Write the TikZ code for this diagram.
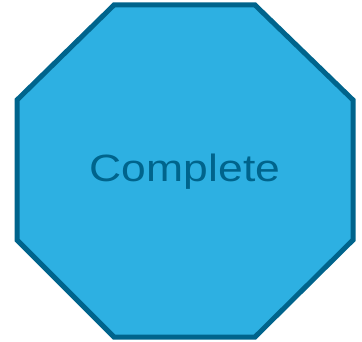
\documentclass[tikz,border=0pt]{standalone}
\usepackage{fontspec}
\setmainfont{Liberation Sans}
\usetikzlibrary{positioning}
\definecolor{stopfill}{RGB}{45,176,226}
\definecolor{stopline}{RGB}{0,100,140}

\begin{document}
\begin{tikzpicture}[x=1pt, y=-1pt]
      \useasboundingbox (0,0) rectangle (362,342);

      % Octagon
      \draw[line width=5pt, line join=miter, draw=stopline, fill=stopfill]
        (114,5) -- (255,5) -- (353,100) -- (353,240) -- (255,337)
        -- (114,337) -- (17,240) -- (17,100) -- cycle;

      % Label
      \node[anchor=base, inner sep=0pt, text=stopline, xscale=1.17,
            font=\fontsize{38}{38}\selectfont] (label) at (185,182) {Complete};
    \end{tikzpicture}
\end{document}
